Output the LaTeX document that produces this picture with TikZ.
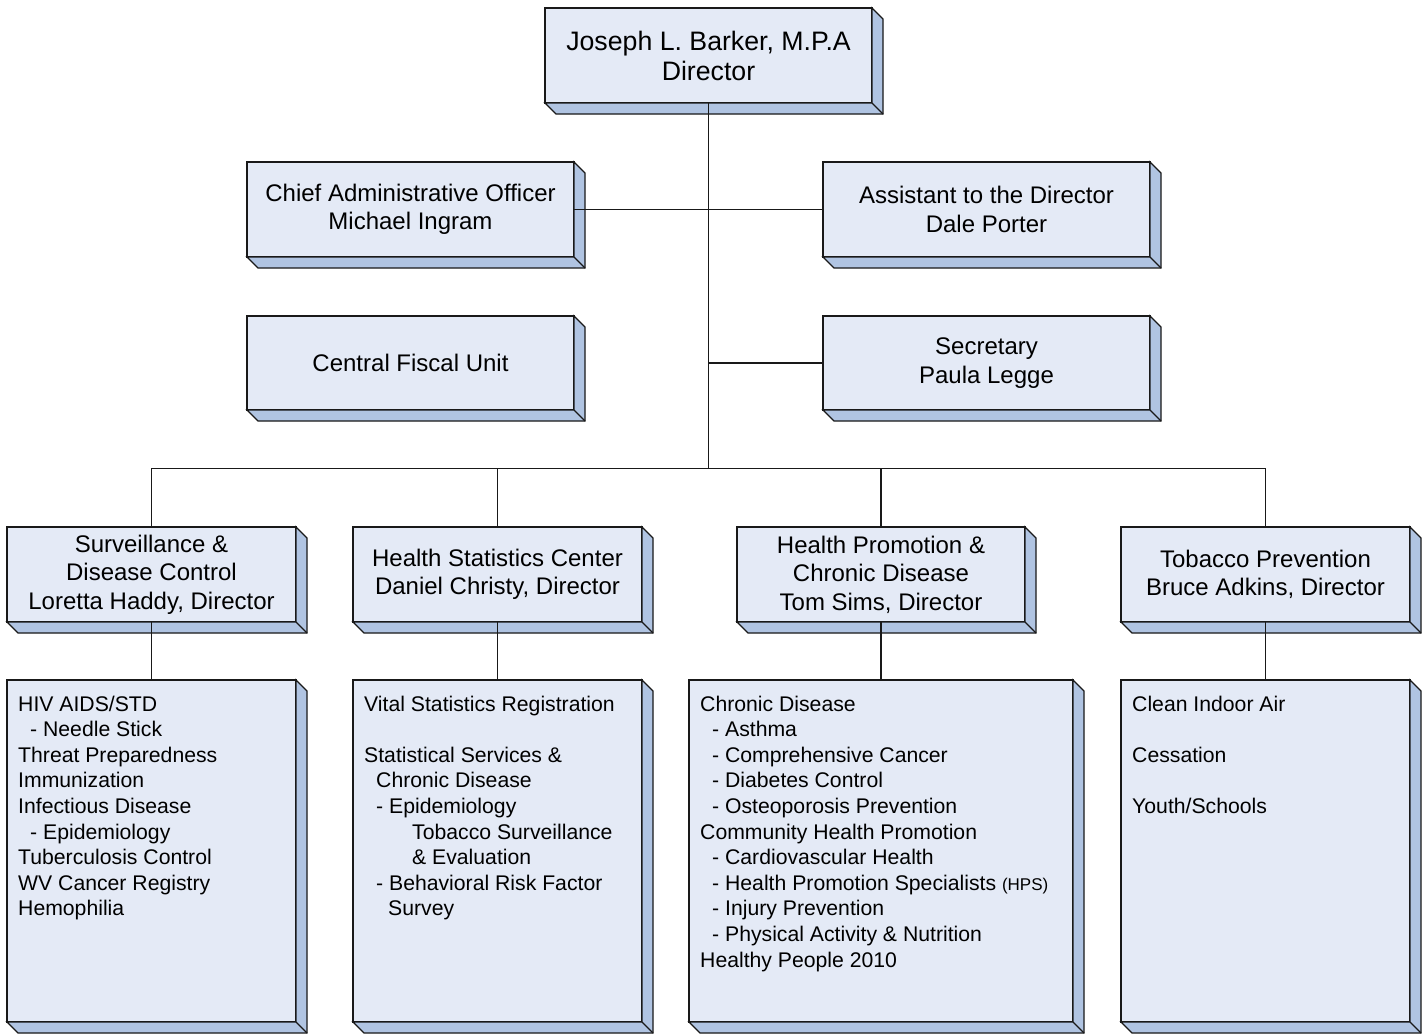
\documentclass[tikz,border=0pt]{standalone}
\usepackage{fontspec}
\setmainfont{Liberation Sans}
\definecolor{frontc}{RGB}{228,234,246}
\definecolor{sidec}{RGB}{176,196,226}
\definecolor{linec}{RGB}{25,25,25}
\tikzset{
  face/.style={draw=linec, fill=frontc, line width=1.3pt, rectangle, inner sep=0pt, outer sep=0pt, align=center},
  side/.style={fill=sidec, draw=linec, line width=1.3pt, line join=miter},
  sideedge/.style={draw=linec, line width=1.3pt},
  wire/.style={draw=linec, line width=1.8pt},
  fTop/.style={font=\fontsize{26.7}{30}\selectfont},
  fMid/.style={font=\fontsize{24}{28.5}\selectfont},
  fList/.style={font=\fontsize{21.2}{25.6}\selectfont, align=left, inner sep=0pt, anchor=north west},
}
\newcommand\ind[1]{\hspace*{#1pt}}
\begin{document}
\begin{tikzpicture}[x=1pt,y=-1pt]
\useasboundingbox (0,0) rectangle (1426,1034);
\fill[white] (0,0) rectangle (1426,1034);
% top level
\node[face,fTop,minimum width=327,minimum height=95] (top) at (708.5,55.5) {Joseph L. Barker, M.P.A\\Director};
\node[face,fMid,minimum width=327,minimum height=95] (chief) at (410.5,209.5) {Chief Administrative Officer\\Michael Ingram};
\node[face,fMid,minimum width=327,minimum height=95] (assist) at (986.5,209.5) {Assistant to the Director\\Dale Porter};
\node[face,fMid,minimum width=327,minimum height=94] (fiscal) at (410.5,363) {Central Fiscal Unit};
\node[face,fMid,minimum width=327,minimum height=94] (secr) at (986.5,363) {Secretary\\Paula Legge};
% divisions
\node[face,fMid,minimum width=289,minimum height=95] (surv) at (151.5,574.5) {Surveillance \&\\Disease Control\\Loretta Haddy, Director};
\node[face,fMid,minimum width=289,minimum height=95] (hstat) at (497.5,574.5) {Health Statistics Center\\Daniel Christy, Director};
\node[face,fMid,minimum width=288,minimum height=95] (hprom) at (881,574.5) {Health Promotion \&\\Chronic Disease\\Tom Sims, Director};
\node[face,fMid,minimum width=289,minimum height=95] (tob) at (1265.5,574.5) {Tobacco Prevention\\Bruce Adkins, Director};
% program boxes
\node[face,minimum width=289,minimum height=342] (b1) at (151.5,851) {};
\node[face,minimum width=289,minimum height=342] (b2) at (497.5,851) {};
\node[face,minimum width=384,minimum height=342] (b3) at (881,851) {};
\node[face,minimum width=289,minimum height=342] (b4) at (1265.5,851) {};
% extrusions
\foreach \n in {top,chief,assist,fiscal,secr,surv,hstat,hprom,tob,b1,b2,b3,b4}{
  \filldraw[side] (\n.north east) -- ([shift={(11,11)}]\n.north east) -- ([shift={(11,11)}]\n.south east) -- ([shift={(11,11)}]\n.south west) -- (\n.south west) -- (\n.south east) -- cycle;
  \draw[sideedge] (\n.south east) -- ([shift={(11,11)}]\n.south east);
}
% list texts
\node[fList] (l1) at ([shift={(11,15.5)}]b1.north west) {HIV AIDS/STD\\
\ind{12}- Needle Stick\\
Threat Preparedness\\
Immunization\\
Infectious Disease\\
\ind{12}- Epidemiology\\
Tuberculosis Control\\
WV Cancer Registry\\
Hemophilia};
\node[fList] (l2) at ([shift={(11,15.5)}]b2.north west) {Vital Statistics Registration\\
\mbox{}\\
Statistical Services \&\\
\ind{12}Chronic Disease\\
\ind{12}- Epidemiology\\
\ind{48}Tobacco Surveillance\\
\ind{48}\& Evaluation\\
\ind{12}- Behavioral Risk Factor\\
\ind{24}Survey};
\node[fList] (l3) at ([shift={(11,15.5)}]b3.north west) {Chronic Disease\\
\ind{12}- Asthma\\
\ind{12}- Comprehensive Cancer\\
\ind{12}- Diabetes Control\\
\ind{12}- Osteoporosis Prevention\\
Community Health Promotion\\
\ind{12}- Cardiovascular Health\\
\ind{12}- Health Promotion Specialists {\fontsize{17}{20}\selectfont (HPS)}\\
\ind{12}- Injury Prevention\\
\ind{12}- Physical Activity \& Nutrition\\
Healthy People 2010};
\node[fList] (l4) at ([shift={(11,15.5)}]b4.north west) {Clean Indoor Air\\
\mbox{}\\
Cessation\\
\mbox{}\\
Youth/Schools};
% connectors
\coordinate (bus) at (0,468.5);
\draw[wire] (top.south) -- (top.south |- bus);
\draw[wire] (chief.east) -- (assist.west);
\draw[wire] (secr.west) -- (secr.west -| top.south);
\draw[wire] (surv.north) -- (surv.north |- bus) -- (tob.north |- bus) -- (tob.north);
\draw[wire] (hstat.north) -- (hstat.north |- bus);
\draw[wire] (hprom.north) -- (hprom.north |- bus);
\draw[wire] (surv.south) -- (b1.north);
\draw[wire] (hstat.south) -- (b2.north);
\draw[wire] (hprom.south) -- (b3.north);
\draw[wire] (tob.south) -- (b4.north);
\end{tikzpicture}
\end{document}
